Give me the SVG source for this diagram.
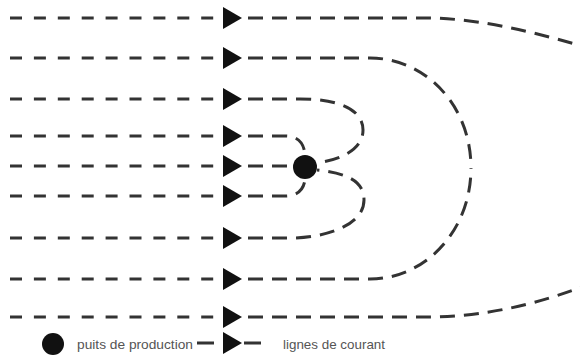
<svg xmlns="http://www.w3.org/2000/svg" xmlns:xlink="http://www.w3.org/1999/xlink" width="580" height="358" viewBox="0 0 580 358">
<style>
.l{fill:none;stroke:#333;stroke-width:3;stroke-dasharray:12 11.9}
.r{fill:none;stroke:#333;stroke-width:3;stroke-dasharray:15 9}
.a{fill:#111}
.t{font-family:"Liberation Sans",Arial,sans-serif;font-size:13px;fill:#555}
</style>
<defs>
<path id="tri" d="M-19,-11 L0,0 L-19,11 Z"/>
</defs>
<rect width="580" height="358" fill="#fff"/>
<g id="connectors">
<g id="left-lines">
<path class="l" d="M10,18H222M10,58H222M10,99H222M10,136H222M10,166H222M10,196H222M10,238H222M10,279H222M10,317H222"/>
</g>
<g id="right-lines">
<path class="r" d="M248,18 L425,18 C470,18 520,28 582,46"/>
<path class="r" d="M248,58 L370,58 C425,58 471,105 471,168"/>
<path class="r" d="M248,279 L370,279 C425,279 471,231 471,168"/>
<path class="r" d="M248,99 L300,99 C340,99 363,110 363,130 C363,150 340,160 316,163"/>
<path class="r" d="M248,136 L285,136 C297,136 304,142 305,155"/>
<path class="r" d="M248,166 L293,166"/>
<path class="r" d="M248,196 L285,196 C297,196 304,190 305,179"/>
<path class="r" d="M248,238 L295,238 C335,236 364,222 364,200 C364,180 345,173 317,170"/>
<path class="r" d="M248,317 L425,317 C470,317 520,310 582,287"/>
</g>
<g id="arrows" class="a">
<use xlink:href="#tri" x="242" y="18"/>
<use xlink:href="#tri" x="242" y="58"/>
<use xlink:href="#tri" x="242" y="99"/>
<use xlink:href="#tri" x="242" y="136"/>
<use xlink:href="#tri" x="242" y="166"/>
<use xlink:href="#tri" x="242" y="196"/>
<use xlink:href="#tri" x="242" y="238"/>
<use xlink:href="#tri" x="242" y="279"/>
<use xlink:href="#tri" x="242" y="317"/>
</g>
</g>
<g id="well">
<circle cx="305" cy="167" r="12" fill="#111"/>
</g>
<g id="legend-well">
<circle cx="53" cy="344" r="11" fill="#111"/>
<text class="t" x="77" y="349" textLength="116" lengthAdjust="spacingAndGlyphs">puits de production</text>
</g>
<g id="legend-line">
<path d="M197,343H214M244,343H261" stroke="#333" stroke-width="3" fill="none"/>
<use xlink:href="#tri" x="242" y="343" class="a"/>
<text class="t" x="283" y="349" textLength="102" lengthAdjust="spacingAndGlyphs">lignes de courant</text>
</g>
</svg>
